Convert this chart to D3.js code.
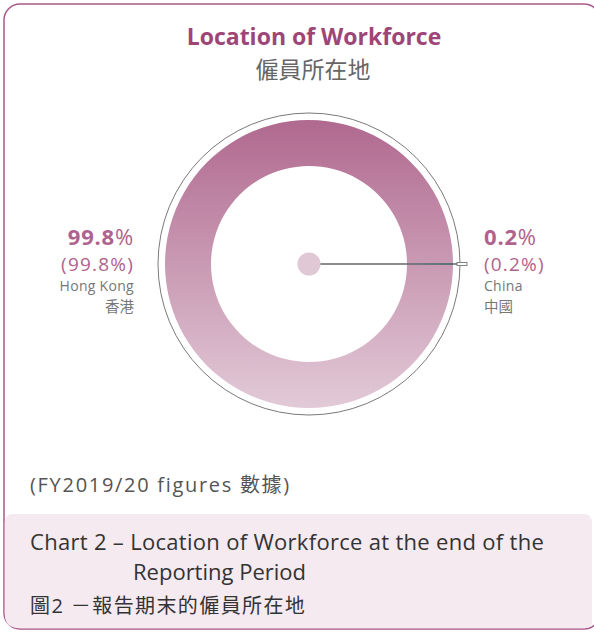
<!DOCTYPE html>
<html>
<head>
<meta charset="utf-8">
<script src="https://cdn.jsdelivr.net/npm/d3@7"></script>
<style>
  body { margin: 0; background: #fff; }
  text { font-family: "Open Sans", "Noto Sans", "Noto Sans CJK TC", sans-serif; }
</style>
</head>
<body>
<div id="chart"></div>
<script>
// Data
const locations = ["China", "Hong Kong"];
const locationsZh = ["中國", "香港"];
const shares = [0.2, 99.8];
const sliceColors = ["#3a8db5", null]; // null -> ring gradient

const width = 594;
const height = 632;
const cx = 309, cy = 264;
const rOuter = 144, rInner = 98, rFrame = 151;

const svg = d3.select("#chart").append("svg")
  .attr("width", width)
  .attr("height", height);

const defs = svg.append("defs");
const grad = defs.append("linearGradient")
  .attr("id", "ringGrad")
  .attr("gradientUnits", "userSpaceOnUse")
  .attr("x1", 0).attr("y1", -rOuter)
  .attr("x2", 0).attr("y2", rOuter);
grad.append("stop").attr("offset", "0%").attr("stop-color", "#b0698f");
grad.append("stop").attr("offset", "100%").attr("stop-color", "#e2cad7");

// Outer card + caption panel
svg.append("rect")
  .attr("x", 4).attr("y", 4)
  .attr("width", 596).attr("height", 625)
  .attr("rx", 16)
  .attr("fill", "#fff")
  .attr("stroke", "#a8578a")
  .attr("stroke-width", 1.5);

svg.append("path")
  .attr("d", "M4.75,523 Q4.75,514 13,514 L584,514 Q592,514 592,523 L592,622 Q592,628.25 585,628.25 L20,628.25 Q4.75,628.25 4.75,614 Z")
  .attr("fill", "#f5eaf0");

// Title
svg.append("text")
  .attr("x", 314).attr("y", 45)
  .attr("text-anchor", "middle")
  .style("font-size", "23px")
  .style("font-weight", "bold")
  .attr("fill", "#9e4577")
  .text("Location of Workforce");

svg.append("text")
  .attr("x", 313).attr("y", 78)
  .attr("text-anchor", "middle")
  .style("font-size", "23px")
  .attr("fill", "#666")
  .text("僱員所在地");

// Donut
const g = svg.append("g").attr("transform", `translate(${cx},${cy})`);

g.append("circle")
  .attr("r", rFrame)
  .attr("fill", "none")
  .attr("stroke", "#7a7a7a")
  .attr("stroke-width", 1);

const half = Math.PI * shares[0] / 100;
const pie = d3.pie().sort(null).value(d => d)
  .startAngle(Math.PI / 2 - half)
  .endAngle(Math.PI / 2 - half + 2 * Math.PI);
const arcs = pie(shares);
const arc = d3.arc().innerRadius(rInner).outerRadius(rOuter);

g.selectAll("path.slice")
  .data(arcs)
  .join("path")
  .attr("class", "slice")
  .attr("d", arc)
  .attr("fill", (d, i) => sliceColors[i] || "url(#ringGrad)");

// Callout for China slice
const chinaAngle = (arcs[0].startAngle + arcs[0].endAngle) / 2 - Math.PI / 2;
const calloutG = g.append("g").attr("transform", `rotate(${chinaAngle * 180 / Math.PI})`);
calloutG.append("line")
  .attr("x1", 0).attr("y1", 0)
  .attr("x2", 150).attr("y2", 0)
  .attr("stroke", "#666")
  .attr("stroke-width", 1.5);
calloutG.append("rect")
  .attr("x", 148).attr("y", -1.5)
  .attr("width", 10).attr("height", 3)
  .attr("fill", "#fff")
  .attr("stroke", "#666")
  .attr("stroke-width", 0.8);

g.append("circle")
  .attr("r", 11.5)
  .attr("fill", "#e0c8d5");

// Labels
const labelPos = [
  { x: cx + 175, anchor: "start" },
  { x: cx - 175, anchor: "end" }
];
const fmt = d3.format(".1f");

arcs.forEach((a, i) => {
  const p = labelPos[i];
  const t1 = svg.append("text")
    .attr("x", p.x).attr("y", 245)
    .attr("text-anchor", p.anchor)
    .style("font-size", "22px")
    .style("letter-spacing", "0.8px")
    .attr("fill", "#b0628e");
  t1.append("tspan").style("font-weight", "bold").text(fmt(shares[i]));
  t1.append("tspan").style("font-weight", "normal").text("%");

  svg.append("text")
    .attr("x", p.x).attr("y", 271)
    .attr("text-anchor", p.anchor)
    .style("font-size", "19px")
    .style("letter-spacing", "1.2px")
    .attr("fill", "#b0628e")
    .text(`(${fmt(shares[i])}%)`);

  svg.append("text")
    .attr("x", p.x).attr("y", 291)
    .attr("text-anchor", p.anchor)
    .style("font-size", "14px")
    .style("letter-spacing", "0.3px")
    .attr("fill", "#777")
    .text(locations[i]);

  svg.append("text")
    .attr("x", p.x).attr("y", 312)
    .attr("text-anchor", p.anchor)
    .style("font-size", "14.5px")
    .attr("fill", "#777")
    .text(locationsZh[i]);
});

// Footnote
svg.append("text")
  .attr("x", 30).attr("y", 492)
  .style("font-size", "20px")
  .style("letter-spacing", "1.7px")
  .attr("fill", "#555")
  .text("(FY2019/20 figures 數據)");

// Caption
const caption = [
  { x: 30, y: 550, size: 22, ls: 0.3, text: "Chart 2 – Location of Workforce at the end of the" },
  { x: 133, y: 580, size: 22, ls: 0, text: "Reporting Period" },
  { x: 30, y: 613, size: 20, ls: 1.4, text: "圖2 －報告期末的僱員所在地" }
];
svg.selectAll("text.caption")
  .data(caption)
  .join("text")
  .attr("class", "caption")
  .attr("x", d => d.x).attr("y", d => d.y)
  .style("font-size", d => d.size + "px")
  .style("letter-spacing", d => d.ls + "px")
  .attr("fill", "#333")
  .text(d => d.text);
</script>
</body>
</html>
